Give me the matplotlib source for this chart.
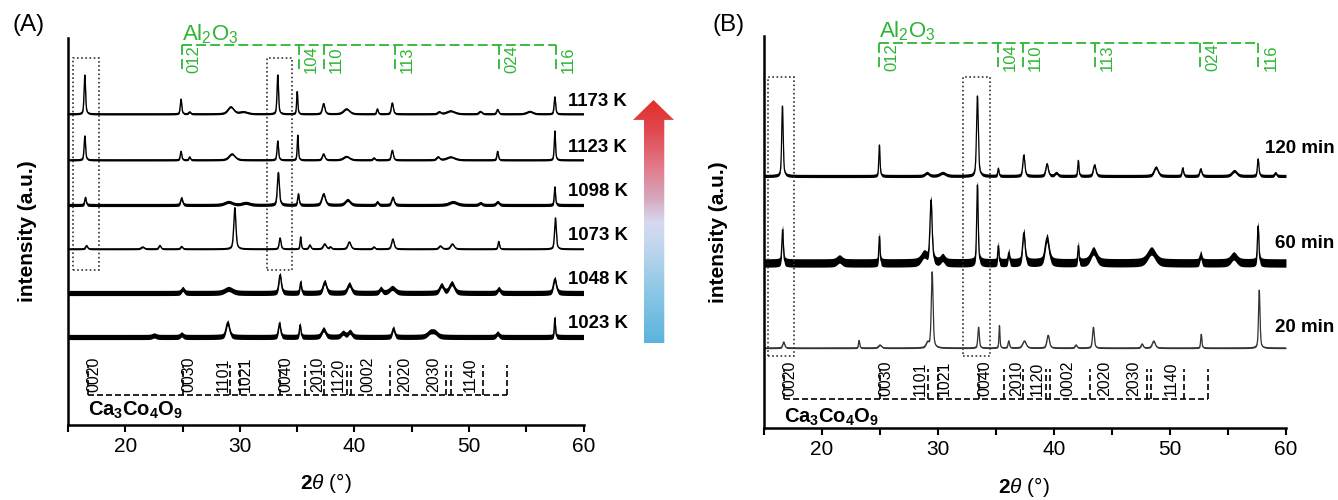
import numpy as np
import matplotlib
matplotlib.use("Agg")
import matplotlib.pyplot as plt
from matplotlib.colors import LinearSegmentedColormap
from matplotlib.patches import Polygon, Rectangle

plt.rcParams["font.family"] = ["Liberation Sans", "DejaVu Sans"]
plt.rcParams["mathtext.fontset"] = "custom"
plt.rcParams["mathtext.rm"] = "Liberation Sans"
plt.rcParams["mathtext.it"] = "Liberation Sans:italic"
plt.rcParams["mathtext.bf"] = "Liberation Sans:bold"

GREEN = "#2db533"

# reference reflections
AL2O3_POS = [24.9, 35.15, 37.3, 43.5, 52.6, 57.6]
AL2O3_HKL = ["012", "104", "110", "113", "024", "116"]
CCO_LEGS = [16.7, 25.0, 29.1, 30.0, 33.5, 35.7, 37.35, 39.35, 39.7, 43.1,
            48.0, 48.4, 51.2, 53.3]
CCO_HKL = ["0020", "0030", "1101", "1021", "0040", "2010", "1120", "0002",
           "2020", "2030", "1140"]
CCO_HKL_POS = [17.25, 25.55, 28.5, 30.5, 34.0, 36.8, 38.6, 41.2, 44.4, 46.9, 50.1]

# panel A: peaks (2theta, height, fwhm), top to bottom
TEMPS = ["1173 K", "1123 K", "1098 K", "1073 K", "1048 K", "1023 K"]
PK_1173 = [(16.45, 38.9, 0.15), (24.85, 14.8, 0.15), (25.6, 2, 0.2), (29.2, 7, 0.6),
           (30.3, 2, 0.8), (33.3, 39, 0.15), (35.0, 22.4, 0.12), (37.3, 10.3, 0.25),
           (39.3, 5, 0.6), (42.0, 5, 0.15), (43.3, 11, 0.2), (47.4, 2, 0.3),
           (48.4, 3, 0.8), (51.0, 2.5, 0.3), (52.5, 4.5, 0.2), (55.3, 2.5, 0.6),
           (57.5, 17, 0.15)]
PK_1123 = [(16.45, 24, 0.15), (24.85, 8.6, 0.15), (25.6, 3, 0.15), (29.3, 6, 0.6),
           (33.3, 19, 0.15), (35.05, 24.8, 0.12), (37.3, 6, 0.25), (39.3, 3.5, 0.6),
           (41.7, 2, 0.2), (43.3, 9.6, 0.2), (47.3, 3, 0.3), (48.4, 3, 0.8),
           (52.5, 8.6, 0.15), (57.5, 29, 0.13)]
PK_1098 = [(16.5, 7.5, 0.15), (24.9, 7, 0.2), (29.0, 3, 0.8), (30.5, 2, 0.8),
           (33.35, 32.4, 0.2), (35.1, 11, 0.15), (37.3, 11, 0.35), (39.4, 5, 0.5),
           (42.0, 3, 0.2), (43.35, 7.5, 0.25), (48.6, 3, 0.8), (51.0, 2, 0.3),
           (52.5, 3, 0.3), (57.5, 18, 0.13)]
PK_1073 = [(16.6, 3.4, 0.2), (21.5, 2, 0.3), (23.0, 3.5, 0.2), (24.9, 2.5, 0.2),
           (29.55, 41.3, 0.22), (33.5, 11, 0.18), (35.3, 12, 0.12), (36.1, 4, 0.2),
           (37.4, 5, 0.3), (37.9, 2, 0.2), (39.55, 7, 0.3), (41.7, 2, 0.2),
           (43.35, 10, 0.25), (47.5, 3, 0.3), (48.55, 5, 0.35), (52.6, 7.5, 0.15),
           (57.55, 31, 0.18)]
PK_1048 = [(25.0, 4, 0.3), (29.0, 4, 0.8), (33.5, 18, 0.25), (35.3, 11, 0.15),
           (37.4, 11, 0.35), (39.55, 8.6, 0.4), (42.3, 4, 0.3), (43.3, 5, 0.6),
           (47.6, 7.5, 0.4), (48.5, 9.6, 0.5), (52.6, 4, 0.3), (57.5, 14, 0.3)]
PK_1023 = [(22.5, 1.5, 0.4), (24.9, 2.5, 0.3), (28.93, 14.5, 0.35), (33.45, 13.8, 0.22),
           (35.25, 12, 0.15), (37.3, 7.6, 0.4), (39.0, 4, 0.4), (39.6, 5, 0.4),
           (43.4, 8.6, 0.25), (46.6, 4, 0.6), (47.0, 4, 0.6), (52.5, 3.5, 0.3),
           (57.5, 19, 0.12)]
PEAKS_A = [PK_1173, PK_1123, PK_1098, PK_1073, PK_1048, PK_1023]

# panel B: peaks (2theta, height, fwhm), top to bottom
TIMES = ["120 min", "60 min", "20 min"]
PK_120 = [(16.59, 70, 0.15), (24.95, 31, 0.12), (29.05, 3, 0.4), (30.4, 3, 0.6),
          (33.4, 80, 0.18), (35.2, 7.6, 0.12), (37.4, 21, 0.2), (39.4, 12, 0.25),
          (40.2, 3, 0.3), (42.1, 15.5, 0.12), (43.5, 11, 0.25), (48.8, 8.6, 0.4),
          (51.1, 8, 0.15), (52.65, 7, 0.2), (55.55, 5, 0.5), (57.6, 17, 0.15),
          (59.1, 3, 0.2)]
PK_60 = [(16.6, 33.4, 0.15), (21.5, 4, 0.5), (24.95, 26.5, 0.12), (28.8, 8, 0.6),
         (29.4, 62, 0.22), (30.4, 5, 0.4), (33.4, 78, 0.15), (35.2, 17, 0.12),
         (36.1, 10, 0.15), (37.4, 30, 0.25), (39.4, 25, 0.4), (42.1, 17, 0.12),
         (43.4, 12, 0.6), (48.4, 12, 0.8), (52.65, 8, 0.2), (55.5, 7, 0.6),
         (57.6, 37, 0.15)]
PK_20 = [(16.7, 6, 0.2), (23.2, 7.5, 0.12), (25.0, 3, 0.3), (29.1, 5, 0.3),
         (29.5, 76, 0.18), (33.5, 20.7, 0.15), (35.3, 22.4, 0.1), (36.1, 7, 0.15),
         (37.45, 7, 0.35), (39.5, 12.7, 0.25), (41.9, 3, 0.2), (43.4, 20.7, 0.18),
         (47.6, 4, 0.2), (48.6, 7, 0.3), (52.7, 13.8, 0.12), (57.7, 58, 0.15)]
PEAKS_B = [PK_120, PK_60, PK_20]

# layout (y in axis units = pixels above the 2theta axis); band = noise half-width
BASE_A = [311, 265, 220, 176, 132, 88]
BAND_A = [1.0, 1.0, 1.6, 0.8, 2.6, 2.6]
BASE_B = [252, 165, 80]
BAND_B = [1.6, 4.2, 0.7]
LBL_OFF_B = [28, 20, 20]


def pattern(x, peaks):
    y = np.zeros_like(x)
    for x0, h, w in peaks:
        d = (x - x0) / (w / 2)
        y += h * (0.5 / (1 + d ** 2) + 0.5 * np.exp(-np.log(2) * d ** 2))
    return y


def trace(ax, x, y, band, color="k", lw=1.0):
    ax.fill_between(x, y - band, y + band, color=color, lw=0)
    ax.plot(x, y, color=color, lw=lw)


def decorate(ax, ytop, al_top, al_leg, al_txt, boxes, box_y, cco_bot, cco_top, cco_txt):
    dash_g = (0, (5.5, 2.3))
    ax.plot([AL2O3_POS[0], AL2O3_POS[-1]], [al_top, al_top], color=GREEN, lw=1.3,
            ls=dash_g, clip_on=False)
    for p, t in zip(AL2O3_POS, AL2O3_HKL):
        ax.plot([p, p], [al_top, al_leg], color=GREEN, lw=1.3, ls=dash_g, clip_on=False)
        ax.text(p + 0.45, al_leg - 1, t, rotation=90, rotation_mode="anchor",
                ha="left", va="top", color=GREEN, fontsize=12, clip_on=False)
    ax.text(AL2O3_POS[0] + 0.05, al_txt, r"Al$_2$O$_3$", color=GREEN, fontsize=16,
            ha="left", va="center", clip_on=False)
    for x0, x1 in boxes:
        ax.add_patch(Rectangle((x0, box_y[0]), x1 - x0, box_y[1] - box_y[0], fill=False,
                               ls=(0, (1, 1.5)), lw=1.2, ec="#333333"))
    dash_k = (0, (3.6, 1.8))
    ax.plot([CCO_LEGS[0], CCO_LEGS[-1]], [cco_bot, cco_bot], color="k", lw=1.2, ls=dash_k)
    for p in CCO_LEGS:
        ax.plot([p, p], [cco_bot, cco_top], color="k", lw=1.2, ls=dash_k)
    for p, t in zip(CCO_HKL_POS, CCO_HKL):
        ax.text(p, cco_bot + 3, t, rotation=90, ha="center", va="bottom", fontsize=11.5)
    ax.text(CCO_LEGS[0], cco_txt, r"$\mathbf{Ca_3Co_4O_9}$", fontsize=14.5,
            ha="left", va="center")

    ax.set_xlim(15, 60)
    ax.set_ylim(0, ytop)
    ax.set_yticks([])
    ax.set_xticks([20, 30, 40, 50, 60])
    ax.set_xticks([15, 25, 35, 45, 55], minor=True)
    ax.tick_params(which="both", direction="out", length=5, width=1.5, labelsize=15)
    for s in ["top", "right"]:
        ax.spines[s].set_visible(False)
    for s in ["left", "bottom"]:
        ax.spines[s].set_linewidth(1.8)
    ax.set_ylabel("intensity (a.u.)", fontsize=15, fontweight="bold")
    ax.set_xlabel(r"$\mathbf{2}\mathit{\theta}$ (°)", fontsize=15)


fig = plt.figure(figsize=(13.38, 5.0), dpi=100)
x = np.linspace(15, 60, 4000)

axA = fig.add_axes([0.0510, 0.150, 0.3851, 0.774])
for lbl, pk, b, band in zip(TEMPS, PEAKS_A, BASE_A, BAND_A):
    trace(axA, x, b + pattern(x, pk), band)
    axA.text(58.65, b + 13, lbl, fontsize=13.4, fontweight="bold", ha="left",
             va="center", clip_on=False)
decorate(axA, 387, 380, 353, 391, [(15.45, 17.72), (32.34, 34.52)], (155, 367),
         30, 60, 15)
axA.yaxis.set_label_coords(-0.06, 0.5)
axA.xaxis.set_label_coords(0.5, -0.12)

axB = fig.add_axes([0.5710, 0.144, 0.3901, 0.784])
for lbl, pk, b, band, off in zip(TIMES, PEAKS_B, BASE_B, BAND_B, LBL_OFF_B):
    col = "#333333" if band < 1 else "k"
    trace(axB, x, b + pattern(x, pk), band, color=col, lw=0.9)
    axB.text(64.2, b + off, lbl, fontsize=13.5, fontweight="bold", ha="right",
             va="center", clip_on=False)
decorate(axB, 392, 385, 358, 397, [(15.31, 17.62), (32.16, 34.48)], (72, 351),
         29, 59, 11)
axB.yaxis.set_label_coords(-0.069, 0.5)
axB.xaxis.set_label_coords(0.497, -0.12)

fig.text(13 / 1338, 1 - 25 / 500, "(A)", fontsize=17.5, ha="left", va="center")
fig.text(713 / 1338, 1 - 25 / 500, "(B)", fontsize=17.5, ha="left", va="center")

# gradient arrow (blue -> red)
axr = fig.add_axes([633 / 1338, 1 - 343 / 500, 41 / 1338, 243 / 500])
axr.set_xlim(0, 1)
axr.set_ylim(0, 1)
axr.axis("off")
cmap = LinearSegmentedColormap.from_list(
    "heat", [(0.0, "#5ab4dc"), (0.22, "#8fc8e6"), (0.42, "#c6d8ee"), (0.5, "#d8d8f0"),
             (0.6, "#d6a6bc"), (0.72, "#e27c8c"), (0.88, "#e0474e"), (1.0, "#e0302a")])
grad = np.linspace(0, 1, 256).reshape(-1, 1)
im = axr.imshow(grad, cmap=cmap, origin="lower", extent=[0, 1, 0, 1], aspect="auto")
arrow = Polygon([(0.268, 0), (0.763, 0), (0.763, 0.918), (1.0, 0.918), (0.5, 1.0),
                 (0.0, 0.918), (0.268, 0.918)], closed=True, fc="none", ec="none",
                transform=axr.transData)
axr.add_patch(arrow)
im.set_clip_path(arrow)

fig.savefig("out.png", dpi=100)
